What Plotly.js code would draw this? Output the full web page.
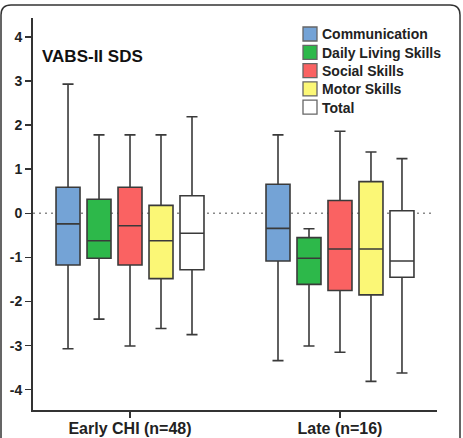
<!DOCTYPE html>
<html>
<head>
<meta charset="utf-8">
<script src="https://cdn.plot.ly/plotly-3.0.1.min.js"></script>
<style>html,body{margin:0;padding:0;background:#fff;}#chart{width:463px;height:438px;}</style>
</head>
<body>
<div id="chart"></div>
<script>
// Categories (groups on x axis)
const groups = ['Early CHI (n=48)', 'Late (n=16)'];
// Series names
const seriesNames = ['Communication', 'Daily Living Skills', 'Social Skills', 'Motor Skills', 'Total'];
const seriesColors = ['#74a3d6', '#2db84a', '#fa6262', '#fbf776', '#ffffff'];

// Box statistics per series: [Early, Late]
const lowerWhisker = {
  'Communication':       [-3.07, -3.34],
  'Daily Living Skills': [-2.40, -3.01],
  'Social Skills':       [-3.01, -3.15],
  'Motor Skills':        [-2.61, -3.81],
  'Total':               [-2.75, -3.62]
};
const q1 = {
  'Communication':       [-1.17, -1.08],
  'Daily Living Skills': [-1.02, -1.61],
  'Social Skills':       [-1.17, -1.75],
  'Motor Skills':        [-1.48, -1.85],
  'Total':               [-1.28, -1.45]
};
const median = {
  'Communication':       [-0.24, -0.34],
  'Daily Living Skills': [-0.62, -1.02],
  'Social Skills':       [-0.28, -0.81],
  'Motor Skills':        [-0.62, -0.81],
  'Total':               [-0.45, -1.08]
};
const q3 = {
  'Communication':       [0.59, 0.66],
  'Daily Living Skills': [0.32, -0.55],
  'Social Skills':       [0.59, 0.29],
  'Motor Skills':        [0.18, 0.72],
  'Total':               [0.40, 0.06]
};
const upperWhisker = {
  'Communication':       [2.93, 1.78],
  'Daily Living Skills': [1.78, -0.35],
  'Social Skills':       [1.78, 1.86],
  'Motor Skills':        [1.78, 1.39],
  'Total':               [2.19, 1.24]
};
const yTicks = [-4, -3, -2, -1, 0, 1, 2, 3, 4];

const FONT = 'Liberation Sans, Arial, sans-serif';

const traces = seriesNames.map((name, i) => ({
  type: 'box',
  name: name,
  x: groups,
  q1: q1[name],
  median: median[name],
  q3: q3[name],
  lowerfence: lowerWhisker[name],
  upperfence: upperWhisker[name],
  fillcolor: seriesColors[i],
  line: {color: '#3a3a3a', width: 1.6},
  whiskerwidth: 0.46,
  boxpoints: false,
  showlegend: false,
  hoverinfo: 'skip'
}));

// pixel helpers for decorative frame / legend (plot area px: x 33..437, y 18..410)
const PX0 = 33, PX1 = 437, PY0 = 18, PY1 = 410;
const px = v => (v - PX0) / (PX1 - PX0);
const py = v => (PY1 - v) / (PY1 - PY0);
const r = 10;
const frame = 'M ' + px(1) + ',' + py(450) +
  ' L ' + px(1) + ',' + py(5 + r) +
  ' Q ' + px(1) + ',' + py(5) + ' ' + px(1 + r) + ',' + py(5) +
  ' L ' + px(460 - r) + ',' + py(5) +
  ' Q ' + px(460) + ',' + py(5) + ' ' + px(460) + ',' + py(5 + r) +
  ' L ' + px(460) + ',' + py(450);

const shapes = [
  {type: 'line', xref: 'paper', x0: 0, x1: 0.99, yref: 'y', y0: 0, y1: 0,
   line: {color: '#8a8a8a', width: 1.5, dash: '2px,4px'}, layer: 'below'},
  {type: 'path', xref: 'paper', yref: 'paper', path: frame,
   line: {color: '#333', width: 1.5}}
];
const annotations = [
  {xref: 'paper', yref: 'paper', x: px(40), y: py(56), xanchor: 'left', yanchor: 'middle',
   text: 'VABS-II SDS', showarrow: false,
   font: {family: FONT, size: 17, color: '#111', weight: 'bold'}}
];

// Legend (keys drawn as squares + text)
const legX = 303, legY0 = 34, legStep = 18.3, legSize = 14;
seriesNames.forEach((name, i) => {
  const cy = legY0 + i * legStep;
  shapes.push({type: 'rect', xref: 'paper', yref: 'paper',
    x0: px(legX), x1: px(legX + legSize), y0: py(cy + legSize / 2), y1: py(cy - legSize / 2),
    fillcolor: seriesColors[i], line: {color: '#666', width: 1.3}});
  annotations.push({xref: 'paper', yref: 'paper', x: px(legX + legSize + 3), y: py(cy + 0.5),
    xanchor: 'left', yanchor: 'middle', text: name, showarrow: false,
    font: {family: FONT, size: 14, color: '#222', weight: 'bold'}});
});

const layout = {
  width: 463,
  height: 438,
  margin: {l: 33, r: 26, t: 18, b: 28, pad: 0},
  paper_bgcolor: '#ffffff',
  plot_bgcolor: '#ffffff',
  boxmode: 'group',
  boxgap: 0.262,
  boxgroupgap: 0.226,
  showlegend: false,
  xaxis: {
    type: 'category',
    range: [-0.462, 1.462],
    showline: true, linecolor: '#333', linewidth: 2,
    ticks: 'outside', ticklen: 6, tickwidth: 1.5, tickcolor: '#333',
    ticklabelstandoff: -3,
    showgrid: false, zeroline: false,
    tickfont: {family: FONT, size: 16, color: '#222', weight: 'bold'},
    fixedrange: true
  },
  yaxis: {
    range: [-4.46, 4.43],
    tickvals: yTicks,
    ticktext: yTicks.map(String),
    showline: true, linecolor: '#333', linewidth: 2,
    ticks: 'outside', ticklen: 6, tickwidth: 1.5, tickcolor: '#333',
    showgrid: false, zeroline: false,
    tickfont: {family: FONT, size: 14, color: '#222', weight: 'bold'},
    fixedrange: true
  },
  shapes: shapes,
  annotations: annotations
};

Plotly.newPlot('chart', traces, layout, {staticPlot: true, displayModeBar: false});
</script>
</body>
</html>
